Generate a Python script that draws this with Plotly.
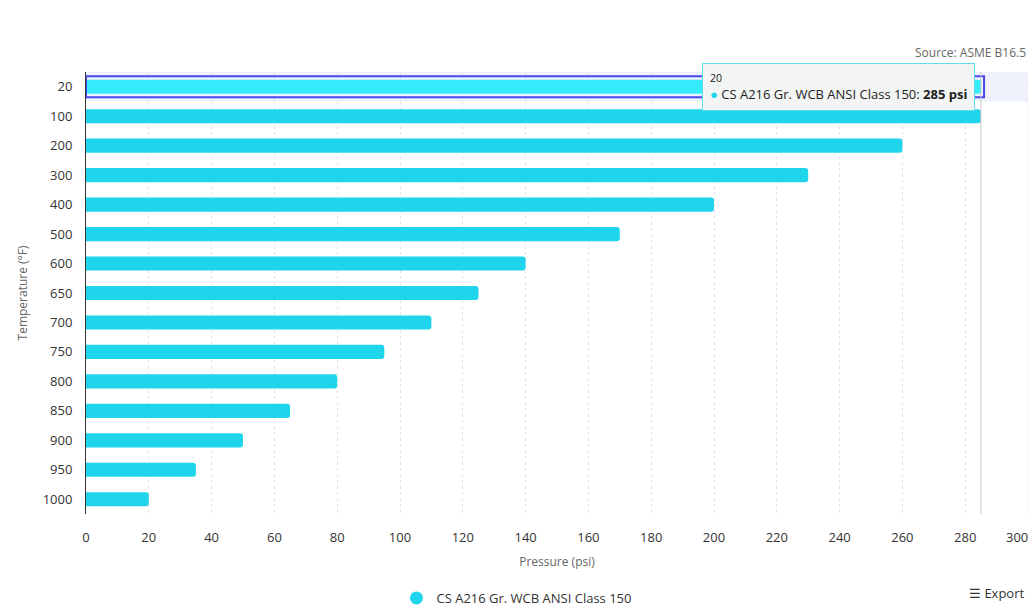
import plotly.graph_objects as go

temps = ["20", "100", "200", "300", "400", "500", "600", "650", "700", "750", "800", "850", "900", "950", "1000"]
pressures = [285, 285, 260, 230, 200, 170, 140, 125, 110, 95, 80, 65, 50, 35, 20]
series_name = "CS A216 Gr. WCB ANSI Class 150"
x_ticks = list(range(0, 301, 20))
hover_index = 0

BAR = "#1fd5eb"
HOVER_BAR = "#35ecfc"
FONT = "Open Sans, Noto Sans, sans-serif"

colors = [HOVER_BAR if i == hover_index else BAR for i in range(len(temps))]

fig = go.Figure()
fig.add_trace(go.Bar(
    x=pressures, y=temps, orientation="h",
    marker=dict(color=colors, line=dict(width=0)),
    showlegend=False, hoverinfo="skip",
))
# legend proxy with circular symbol
fig.add_trace(go.Scatter(
    x=[None], y=[None], mode="markers", name=series_name,
    marker=dict(symbol="circle", size=13, color=BAR),
))

hv = pressures[hover_index]
shapes = [
    dict(type="rect", xref="paper", yref="y", x0=0, x1=1,
         y0=hover_index - 0.5, y1=hover_index + 0.5,
         fillcolor="rgba(225,230,252,0.55)", line=dict(width=0), layer="below"),
    dict(type="rect", xref="x", yref="y", x0=0, x1=hv + 1,
         y0=hover_index - 0.36, y1=hover_index + 0.36,
         fillcolor="rgba(0,0,0,0)", line=dict(color="#4848ec", width=2), layer="above"),
    dict(type="line", xref="x", yref="paper", x0=hv, x1=hv, y0=0, y1=1,
         line=dict(color="#c8c8c8", width=1)),
]

last_tick = x_ticks[-1]
annotations = [
    dict(text="Source: ASME B16.5", xref="paper", yref="paper", x=1, y=1.02,
         xanchor="right", yanchor="bottom", showarrow=False,
         font=dict(size=12, color="#666666", family=FONT)),
    dict(text="☰ Export", xref="paper", yref="paper", x=0.998, y=-0.178,
         xanchor="right", yanchor="middle", showarrow=False,
         font=dict(size=13, color="#333333", family=FONT)),
    # last tick label, kept inside the page
    dict(text=str(last_tick), xref="x", yref="paper", x=last_tick, y=0,
         xanchor="center", yanchor="top", xshift=-11, yshift=-12, showarrow=False,
         font=dict(size=13, color="#333333", family=FONT)),
    dict(text=(f"<span style='font-size:10.5px'>{temps[hover_index]}</span><br>"
               f"<span style='color:{BAR}'>●</span> {series_name}: <b>{hv} psi</b>"),
         xref="x", yref="y", x=hv, y=hover_index, xanchor="right", yanchor="middle",
         xshift=-6, yshift=0, showarrow=False, align="left",
         bgcolor="#f3f4f4", bordercolor="#5fdcec", borderwidth=1, borderpad=7,
         font=dict(size=13, color="#222222", family=FONT)),
]

fig.update_layout(
    width=1034, height=614, autosize=False,
    margin=dict(l=86, r=6, t=72, b=100, autoexpand=False),
    paper_bgcolor="white", plot_bgcolor="white",
    font=dict(family=FONT, color="#333333", size=13),
    bargap=0.52, barcornerradius=3,
    shapes=shapes, annotations=annotations,
    legend=dict(orientation="h", x=0.4575, xanchor="center",
                y=-0.19, yanchor="middle", font=dict(size=13, color="#333333")),
    xaxis=dict(range=[0, 300], tickvals=x_ticks[:-1], showgrid=True, gridcolor="#e3e3e3",
               griddash="3px,3px", gridwidth=1, zeroline=False, showline=False,
               ticks="", tickangle=0, ticklabelstandoff=14, tickfont=dict(size=13, color="#333333"),
               title=dict(text="Pressure (psi)", font=dict(size=12, color="#666666"), standoff=12)),
    yaxis=dict(type="category", range=[len(temps) - 0.5, -0.5], showgrid=False, zeroline=False,
               showline=True, linecolor="#333333", linewidth=1, ticks="",
               ticklabelstandoff=10, tickfont=dict(size=13, color="#333333"),
               title=dict(text="Temperature (°F)", font=dict(size=12, color="#666666"), standoff=12)),
)
# grid line at the last tick (which has its label drawn as an annotation)
fig.add_vline(x=last_tick, line=dict(color="#e3e3e3", width=1, dash="3px,3px"), layer="below")

fig.write_html("out.html", config={"displayModeBar": False},
               post_script="document.body.style.margin='0px';document.body.style.overflow='hidden';")
